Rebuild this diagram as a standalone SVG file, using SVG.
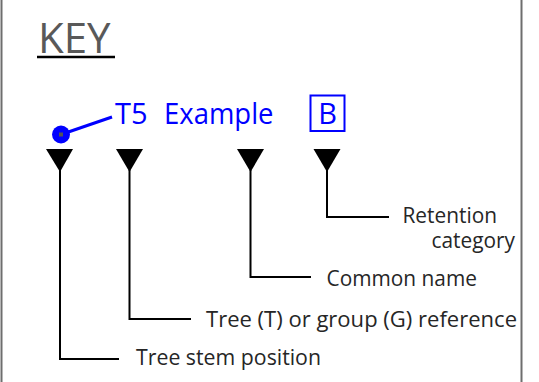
<svg xmlns="http://www.w3.org/2000/svg" width="539" height="382" viewBox="0 0 539 382">
<style>
  .border { stroke: #6e6e6e; stroke-width: 2; fill: none; }
  .lbl { font-family: "Open Sans", "Noto Sans", "DejaVu Sans", sans-serif; font-size: 21px; fill: #262626; }
  .blue { font-family: "Open Sans", "Noto Sans", "DejaVu Sans", sans-serif; font-size: 29px; fill: #0000ff; }
  .conn { stroke: #000; stroke-width: 2; fill: none; }
  .tri { fill: #000; }
</style>
<rect width="539" height="382" fill="#fff"/>
<line class="border" x1="1.5" y1="0" x2="1.5" y2="382"/>
<line class="border" x1="521.5" y1="0" x2="521.5" y2="382"/>

<g id="title">
  <text x="38" y="53" font-family="'Open Sans', 'Noto Sans', sans-serif" font-size="42" fill="#595959">KEY</text>
  <line x1="37" y1="57" x2="115" y2="57" stroke="#000" stroke-width="2.5"/>
</g>

<g id="example">
  <line x1="61" y1="134.5" x2="112" y2="117" stroke="#0000ff" stroke-width="3"/>
  <circle cx="61" cy="134.5" r="9" fill="#0000ff"/>
  <rect x="59" y="132.5" width="4" height="4" fill="#555"/>
  <text class="blue" x="115" y="123.5">T5</text>
  <text class="blue" x="164" y="123.5" textLength="109.5" lengthAdjust="spacingAndGlyphs">Example</text>
  <rect x="310.5" y="95.5" width="34" height="35.5" fill="none" stroke="#0000ff" stroke-width="2"/>
  <text class="blue" x="327.5" y="123.5" text-anchor="middle">B</text>
</g>

<g id="markers">
  <polygon class="tri" points="46,149 73,149 60,172"/>
  <polygon class="tri" points="116,149 143,149 129.5,172"/>
  <polygon class="tri" points="237,149 264,149 250.5,172"/>
  <polygon class="tri" points="313.5,149 340.5,149 327,172"/>
</g>

<g id="connectors">
  <polyline class="conn" points="60,170 60,359 119,359"/>
  <polyline class="conn" points="129.5,170 129.5,319 191,319"/>
  <polyline class="conn" points="250.5,170 250.5,277 311,277"/>
  <polyline class="conn" points="327,170 327,217 389,217"/>
</g>

<g id="label-stem"><text class="lbl" x="136" y="365" textLength="185" lengthAdjust="spacingAndGlyphs">Tree stem position</text></g>
<g id="label-ref"><text class="lbl" x="206" y="326.5" textLength="311" lengthAdjust="spacingAndGlyphs">Tree (T) or group (G) reference</text></g>
<g id="label-name"><text class="lbl" x="326.5" y="286" textLength="150.5" lengthAdjust="spacingAndGlyphs">Common name</text></g>
<g id="label-category">
  <text class="lbl" x="402.5" y="223" textLength="94.5" lengthAdjust="spacingAndGlyphs">Retention</text>
  <text class="lbl" x="431.5" y="248" textLength="83.5" lengthAdjust="spacingAndGlyphs">category</text>
</g>
</svg>
